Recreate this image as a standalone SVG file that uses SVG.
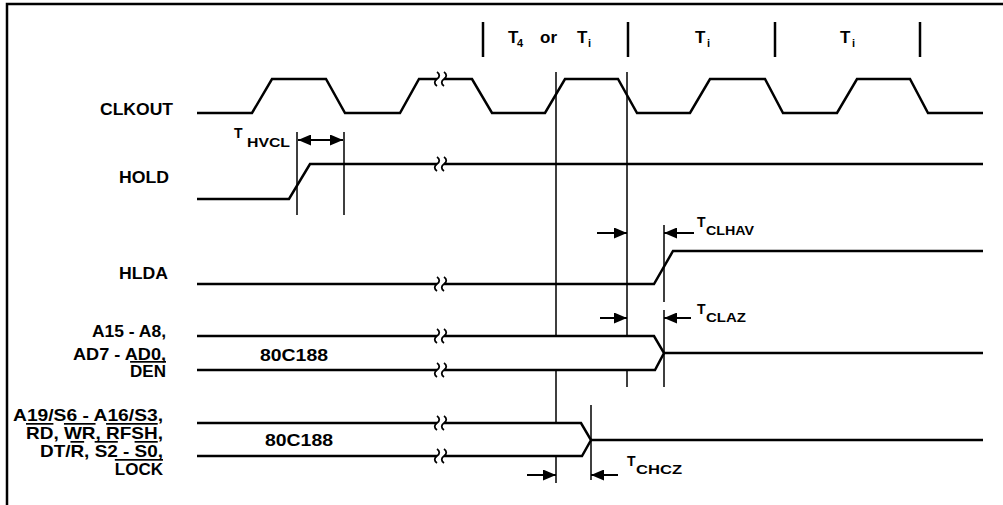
<svg xmlns="http://www.w3.org/2000/svg" width="1003" height="505" viewBox="0 0 1003 505">
<style>
.sig{fill:none;stroke:#000;stroke-width:2.5;stroke-linejoin:miter}
.vl{fill:none;stroke:#000;stroke-width:1.5}
.bar{stroke:#000;stroke-width:2.5}
.brk{fill:none;stroke:#000;stroke-width:1.8}
.arr{stroke:#000;stroke-width:2}
.lbl{font-family:"Liberation Sans",Arial,Helvetica,sans-serif;font-weight:bold;font-size:17px;fill:#000}
.tm{font-family:"Liberation Sans",Arial,Helvetica,sans-serif;font-weight:bold;font-size:14px;fill:#000}
.sub{font-size:13px}
.ol{text-decoration:overline}
</style>
<defs>
<marker id="ah" viewBox="0 0 13 11" refX="13" refY="5.5" markerWidth="13" markerHeight="11" markerUnits="userSpaceOnUse" orient="auto-start-reverse">
<path d="M0,0 L13,5.5 L0,11 z" fill="#000"/>
</marker>
<path id="brk" class="brk" d="M0,-7 c3,2 3,5 0,7 c-3,2 -3,5 0,7 M7,-7 c3,2 3,5 0,7 c-3,2 -3,5 0,7"/>
</defs>
<rect width="1003" height="505" fill="#fff"/>
<g id="frame">
<path class="sig" d="M7,505 V4 H1003" stroke-width="2"/>
</g>
<g id="header">
<line class="bar" x1="483" y1="22" x2="483" y2="57"/>
<line class="bar" x1="628" y1="22" x2="628" y2="57"/>
<line class="bar" x1="775" y1="22" x2="775" y2="57"/>
<line class="bar" x1="920" y1="22" x2="920" y2="57"/>
<text class="lbl" font-size="15"><tspan x="508" y="43">T</tspan><tspan x="517" y="47" font-size="11">4</tspan><tspan x="540" y="43">or</tspan><tspan x="577" y="43">T</tspan><tspan x="588" y="47" font-size="11">i</tspan></text>
<text class="lbl" font-size="15"><tspan x="695" y="43">T</tspan><tspan x="707" y="47" font-size="11">i</tspan></text>
<text class="lbl" font-size="15"><tspan x="840" y="43">T</tspan><tspan x="852" y="47" font-size="11">i</tspan></text>
</g>
<g id="clkout">
<text class="lbl" x="173" y="115" text-anchor="end" textLength="73" lengthAdjust="spacingAndGlyphs">CLKOUT</text>
<path class="sig" d="M197,113 H252 L272,79 H326 L345,113 H400 L419,79 H437"/>
<path class="sig" d="M444,79 H472 L492,113 H545 L565,79 H618 L637,113 H690 L710,79 H765 L783,113 H837 L857,79 H910 L928,113 H983"/>
<use href="#brk" x="437" y="79"/>
</g>
<g id="hold">
<text class="lbl" x="169" y="183" text-anchor="end" textLength="50" lengthAdjust="spacingAndGlyphs">HOLD</text>
<path class="sig" d="M197,199 H289 L310,164 H437"/>
<path class="sig" d="M444,164 H983"/>
<use href="#brk" x="437" y="164"/>
</g>
<g id="hlda">
<text class="lbl" x="168" y="279" text-anchor="end" textLength="49" lengthAdjust="spacingAndGlyphs">HLDA</text>
<path class="sig" d="M197,284 H437"/>
<path class="sig" d="M444,284 H654 L673,251 H983"/>
<use href="#brk" x="437" y="284"/>
</g>
<g id="addr-bus">
<text class="lbl" x="166" y="337" text-anchor="end" textLength="74" lengthAdjust="spacingAndGlyphs">A15 - A8,</text>
<text class="lbl" x="166" y="360" text-anchor="end" textLength="93" lengthAdjust="spacingAndGlyphs">AD7 - AD0,</text>
<text class="lbl ol" x="166" y="377" text-anchor="end">DEN</text>
<text class="lbl" x="260" y="361" textLength="68" lengthAdjust="spacingAndGlyphs">80C188</text>
<path class="sig" d="M197,336 H437 M197,370 H437"/>
<path class="sig" d="M444,336 H654 L664,353 L655,370 H444"/>
<path class="sig" d="M664,353 H983"/>
<use href="#brk" x="437" y="336"/>
<use href="#brk" x="437" y="370"/>
</g>
<g id="status-bus">
<text class="lbl" x="163" y="421" text-anchor="end" textLength="150" lengthAdjust="spacingAndGlyphs">A19/S6 - A16/S3,</text>
<text class="lbl" x="163" y="439" text-anchor="end" textLength="137" lengthAdjust="spacingAndGlyphs"><tspan class="ol">RD</tspan>, <tspan class="ol">WR</tspan>, <tspan class="ol">RFSH</tspan>,</text>
<text class="lbl" x="163" y="457" text-anchor="end" textLength="123" lengthAdjust="spacingAndGlyphs">DT/<tspan class="ol">R</tspan>, <tspan class="ol">S2</tspan> - <tspan class="ol">S0</tspan>,</text>
<text class="lbl ol" x="163" y="475" text-anchor="end">LOCK</text>
<text class="lbl" x="265" y="446" textLength="68" lengthAdjust="spacingAndGlyphs">80C188</text>
<path class="sig" d="M197,423 H437 M197,456 H437"/>
<path class="sig" d="M444,423 H581 L591,440 L582,456 H444"/>
<path class="sig" d="M591,440 H983"/>
<use href="#brk" x="437" y="423"/>
<use href="#brk" x="437" y="456"/>
</g>
<g id="connectors">
<path class="vl" d="M297,132 V215 M344,132 V215"/>
<path class="vl" d="M556,72 V336 M556,370 V423 M556,456 V483"/>
<path class="vl" d="M627,72 V336 M627,370 V387"/>
<path class="vl" d="M664,225 V302 M664,310 V387"/>
<path class="vl" d="M591,405 V480"/>
<line class="arr" x1="298" y1="140" x2="343" y2="140" marker-start="url(#ah)" marker-end="url(#ah)"/>
<line class="arr" x1="597" y1="233" x2="627" y2="233" marker-end="url(#ah)"/>
<line class="arr" x1="694" y1="233" x2="664" y2="233" marker-end="url(#ah)"/>
<line class="arr" x1="600" y1="318" x2="627" y2="318" marker-end="url(#ah)"/>
<line class="arr" x1="691" y1="318" x2="664" y2="318" marker-end="url(#ah)"/>
<line class="arr" x1="527" y1="475" x2="556" y2="475" marker-end="url(#ah)"/>
<line class="arr" x1="618" y1="475" x2="591" y2="475" marker-end="url(#ah)"/>
</g>
<g id="timing-labels">
<text class="tm"><tspan x="234" y="138">T</tspan><tspan class="sub" x="247" y="147" textLength="43" lengthAdjust="spacingAndGlyphs">HVCL</tspan></text>
<text class="tm"><tspan x="697" y="227">T</tspan><tspan class="sub" x="706" y="235" textLength="48" lengthAdjust="spacingAndGlyphs">CLHAV</tspan></text>
<text class="tm"><tspan x="697" y="314">T</tspan><tspan class="sub" x="706" y="322" textLength="40" lengthAdjust="spacingAndGlyphs">CLAZ</tspan></text>
<text class="tm"><tspan x="627" y="466">T</tspan><tspan class="sub" x="636" y="474" textLength="46" lengthAdjust="spacingAndGlyphs">CHCZ</tspan></text>
</g>
</svg>
